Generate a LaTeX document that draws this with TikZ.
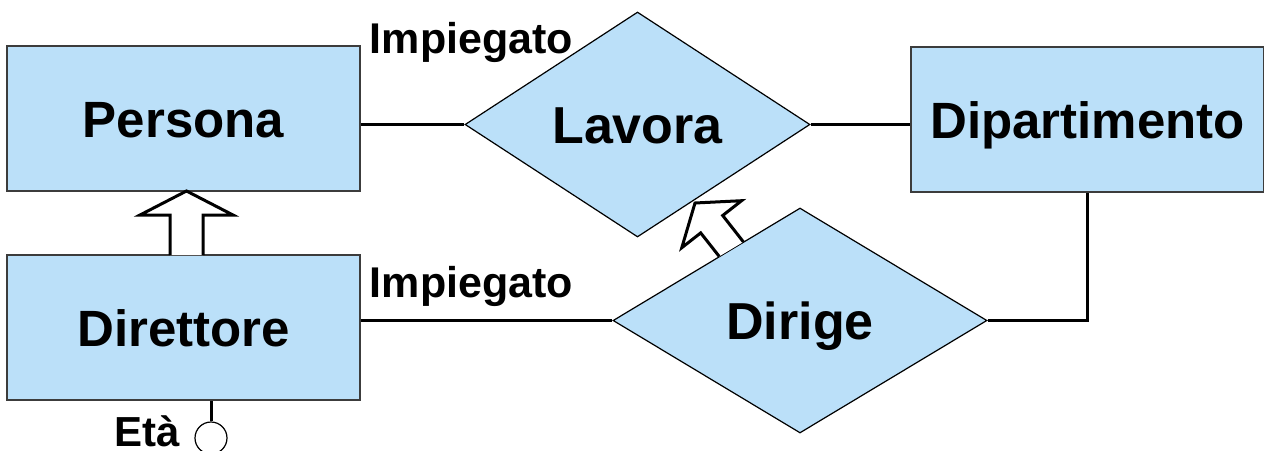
\documentclass[tikz,border=0pt]{standalone}
\usepackage{fontspec}
\setmainfont{Liberation Sans}
\usetikzlibrary{shapes.geometric,calc}
\definecolor{erblue}{RGB}{187,224,249}
\definecolor{erborder}{RGB}{60,60,60}
\begin{document}
\begin{tikzpicture}[x=1pt,y=-1pt,
  entity/.style={draw=erborder,line width=1.5pt,fill=erblue,rectangle,
    minimum width=353pt,minimum height=145pt,inner sep=0pt,
    font=\bfseries\fontsize{51}{60}\selectfont,text height=37pt,text depth=0pt},
  relation/.style={draw=black,line width=1.2pt,fill=erblue,diamond,inner sep=0pt,
    font=\bfseries\fontsize{52}{60}\selectfont,text height=37pt,text depth=0pt},
  conn/.style={draw=black,line width=3pt},
  role/.style={font=\bfseries\fontsize{43}{50}\selectfont,inner sep=0pt},
  isa/.style={draw=black,line width=3pt,fill=white,line join=miter}]
\useasboundingbox (0,0) rectangle (1264,450);
% entities
\node[entity] (persona) at (183.5,118.5) {Persona};
\node[entity] (direttore) at (183.5,327.5) {Direttore};
\node[entity] (dipartimento) at (1087.5,119.5) {Dipartimento};
% relations
\node[relation,minimum width=345pt,minimum height=225pt] (lavora) at (637.5,124.5) {Lavora};
\node[relation,minimum width=374pt,minimum height=225pt] (dirige) at (800,320.5) {Dirige};
% connectors
\draw[conn] (lavora.west -| persona.east) -- (lavora.west);
\draw[conn] (lavora.east) -- (lavora.east -| dipartimento.west);
\draw[conn] (dirige.west -| direttore.east) -- (dirige.west);
\draw[conn] (dirige.east) -| (dipartimento.south);
% role labels
\node[role,anchor=base] (imp1) at (471.5,53) {Impiegato};
\node[role,anchor=base] (imp2) at (471.5,297) {Impiegato};
% generalization arrow Direttore -> Persona
\path[isa] (170,255) -- (170,215) -- (140,215) -- (186.5,191) -- (233,215) -- (203,215) -- (203,255);
% arrow Dirige -> Lavora
\path[isa] (719.2,256.4) -- (700.7,232.9) -- (681.8,247.7) -- (695,203) -- (741.6,200.7) -- (722.7,215.5) -- (743.4,241.9);
% attribute Eta
\node[circle,draw=black,line width=1.2pt,fill=white,minimum size=32pt,inner sep=0pt] (etac) at (211,438) {};
\draw[conn] (direttore.south -| etac.north) -- (etac.north);
\node[role,font=\bfseries\fontsize{42}{50}\selectfont,anchor=base east] (eta) at (180,446) {Età};
\end{tikzpicture}
\end{document}
